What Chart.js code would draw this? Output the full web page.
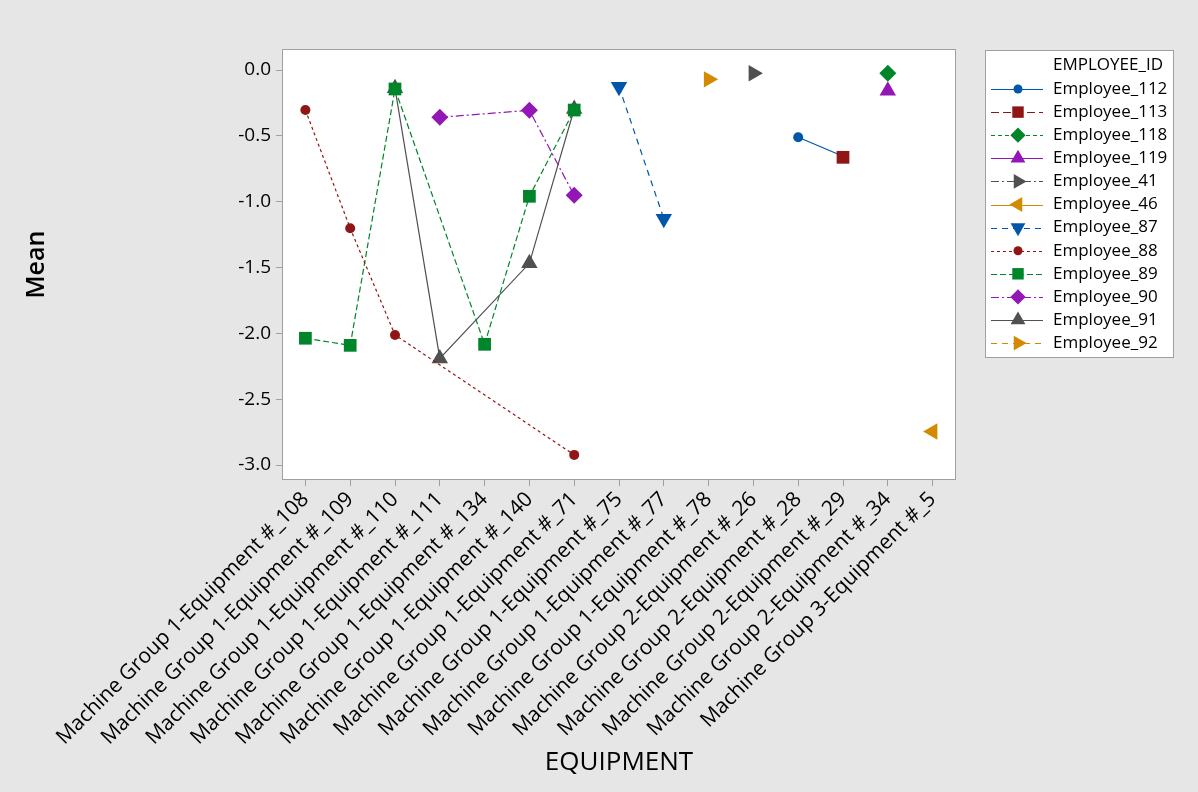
<!DOCTYPE html>
<html>
<head>
<meta charset="utf-8">
<script src="https://cdn.jsdelivr.net/npm/chart.js@4.4.1/dist/chart.umd.min.js"></script>
<style>
  html, body { margin: 0; padding: 0; background: #e6e6e6; }
  canvas { display: block; }
</style>
</head>
<body>
<canvas id="meanChart" width="1198" height="792"></canvas>
<script>
// categories along the x axis
var equipment = [
    'Machine Group 1-Equipment #_108', 'Machine Group 1-Equipment #_109', 'Machine Group 1-Equipment #_110',
    'Machine Group 1-Equipment #_111', 'Machine Group 1-Equipment #_134', 'Machine Group 1-Equipment #_140',
    'Machine Group 1-Equipment #_71', 'Machine Group 1-Equipment #_75', 'Machine Group 1-Equipment #_77',
    'Machine Group 1-Equipment #_78', 'Machine Group 2-Equipment #_26', 'Machine Group 2-Equipment #_28',
    'Machine Group 2-Equipment #_29', 'Machine Group 2-Equipment #_34', 'Machine Group 3-Equipment #_5'
];

// mean per employee, one value per equipment (null = no data)
var emp112 = [null, null, null, null, null, null, null, null, null, null, null, -0.511, -0.655, null, null];
var emp113 = [null, null, null, null, null, null, null, null, null, null, null, null, -0.663, null, null];
var emp118 = [null, null, null, null, null, null, null, null, null, null, null, null, null, -0.025, null];
var emp119 = [null, null, null, null, null, null, null, null, null, null, null, null, null, -0.157, null];
var emp41 = [null, null, null, null, null, null, null, null, null, null, -0.025, null, null, null, null];
var emp46 = [null, null, null, null, null, null, null, null, null, null, null, null, null, null, -2.746];
var emp87 = [null, null, null, null, null, null, null, -0.127, -1.129, null, null, null, null, null, null];
var emp88 = [-0.304, -1.202, -2.012, null, null, null, -2.923, null, null, null, null, null, null, null, null];
var emp89 = [-2.037, -2.091, -0.144, null, -2.083, -0.959, -0.304, null, null, null, null, null, null, null, null];
var emp90 = [null, null, null, -0.359, null, -0.306, -0.952, null, null, null, null, null, null, null, null];
var emp91 = [null, null, -0.139, -2.19, null, -1.468, -0.296, null, null, null, null, null, null, null, null];
var emp92 = [null, null, null, null, null, null, null, null, null, -0.071, null, null, null, null, null];

var yTicks = [0, -0.5, -1, -1.5, -2, -2.5, -3];

var BLUE = '#0056a8', RED = '#901515', GREEN = '#00852b', PURPLE = '#9217b5', GRAY = '#505050', ORANGE = '#d48a00';
var FONT = "'Open Sans', 'Noto Sans', sans-serif";

function series(label, data, color, style, radius, rotation, dash, order) {
    return {
        label: label,
        data: data,
        borderColor: color,
        backgroundColor: color,
        borderWidth: 1.2,
        borderDash: dash,
        pointStyle: style,
        pointRadius: radius,
        pointHoverRadius: radius,
        pointRotation: rotation,
        pointBorderWidth: 0,
        pointBackgroundColor: color,
        spanGaps: true,
        tension: 0,
        order: order
    };
}

var datasets = [
    series('Employee_112', emp112, BLUE, 'circle', 5, 0, [], 0),
    series('Employee_113', emp113, RED, 'rect', 9, 0, [8, 4], -1),
    series('Employee_118', emp118, GREEN, 'rectRot', 8.5, 0, [4, 3], 2),
    series('Employee_119', emp119, PURPLE, 'triangle', 9.5, 0, [], 3),
    series('Employee_41', emp41, GRAY, 'triangle', 9.5, 90, [8, 3, 2, 3], 4),
    series('Employee_46', emp46, ORANGE, 'triangle', 9.5, 270, [], 5),
    series('Employee_87', emp87, BLUE, 'triangle', 9.5, 180, [6, 5], 6),
    series('Employee_88', emp88, RED, 'circle', 5, 0, [3, 3], 7),
    series('Employee_89', emp89, GREEN, 'rect', 9, 0, [6, 3], 8),
    series('Employee_90', emp90, PURPLE, 'rectRot', 8.5, 0, [8, 3, 2, 3], 9),
    series('Employee_91', emp91, GRAY, 'triangle', 9.5, 0, [], 10),
    series('Employee_92', emp92, ORANGE, 'triangle', 9.5, 90, [6, 5], 11)
];

// white plot area with a grey frame
var plotFrame = {
    id: 'plotFrame',
    beforeDraw: function (chart) {
        var a = chart.chartArea, ctx = chart.ctx;
        ctx.save();
        ctx.fillStyle = '#ffffff';
        ctx.fillRect(a.left, a.top, a.right - a.left, a.bottom - a.top);
        ctx.restore();
    },
    afterDraw: function (chart) {
        var a = chart.chartArea, ctx = chart.ctx;
        ctx.save();
        ctx.strokeStyle = '#a0a0a0';
        ctx.lineWidth = 1;
        ctx.strokeRect(Math.round(a.left) - 0.5, Math.round(a.top) - 0.5, Math.round(a.right - a.left) + 1, Math.round(a.bottom - a.top) + 1);
        ctx.restore();
    }
};

// Minitab style legend: line sample with marker, titled box on the right
var sideLegend = {
    id: 'sideLegend',
    afterDraw: function (chart) {
        var ctx = chart.ctx;
        var x0 = 985, y0 = 50, w = 188, h = 307;
        ctx.save();
        ctx.fillStyle = '#ffffff';
        ctx.fillRect(x0, y0, w, h);
        ctx.strokeStyle = '#a0a0a0';
        ctx.lineWidth = 1;
        ctx.strokeRect(x0 + 0.5, y0 + 0.5, w, h);

        ctx.fillStyle = '#000000';
        ctx.font = '17px ' + FONT;
        ctx.textBaseline = 'middle';
        ctx.textAlign = 'left';
        ctx.fillText('EMPLOYEE_ID', 1053, 65);

        chart.data.datasets.forEach(function (ds, i) {
            var y = 89 + i * 23.1;
            ctx.save();
            ctx.strokeStyle = ds.borderColor;
            ctx.lineWidth = 1.2;
            ctx.setLineDash(ds.borderDash || []);
            ctx.beginPath();
            ctx.moveTo(991, Math.round(y) + 0.5);
            ctx.lineTo(1043, Math.round(y) + 0.5);
            ctx.stroke();
            ctx.setLineDash([]);
            ctx.fillStyle = ds.backgroundColor;
            ctx.strokeStyle = ds.borderColor;
            Chart.helpers.drawPoint(ctx, {
                pointStyle: ds.pointStyle,
                rotation: ds.pointRotation,
                radius: ds.pointRadius * 0.9,
                borderWidth: 0
            }, 1018, y);
            ctx.restore();
            ctx.fillStyle = '#000000';
            ctx.fillText(ds.label, 1053, y);
        });
        ctx.restore();
    }
};

var ctx = document.getElementById('meanChart').getContext('2d');
new Chart(ctx, {
    type: 'line',
    data: {
        labels: equipment,
        datasets: datasets
    },
    options: {
        responsive: false,
        animation: false,
        devicePixelRatio: 1,
        layout: {
            padding: { left: 0, right: 243, top: 50, bottom: 0 }
        },
        plugins: {
            legend: { display: false },
            tooltip: { enabled: false }
        },
        scales: {
            x: {
                type: 'category',
                offset: true,
                border: { display: false },
                grid: { drawOnChartArea: false, drawTicks: true, tickLength: 7, color: '#a0a0a0' },
                ticks: {
                    color: '#000000',
                    font: { family: FONT, size: 21 },
                    maxRotation: 45,
                    minRotation: 45,
                    autoSkip: false,
                    padding: 1
                },
                title: {
                    display: true,
                    text: 'EQUIPMENT',
                    color: '#000000',
                    font: { family: FONT, size: 26 },
                    padding: { top: 0, bottom: 14 }
                },
                afterFit: function (scale) { scale.height = 313; }
            },
            y: {
                min: -3.106,
                max: 0.152,
                border: { display: false },
                grid: { drawOnChartArea: false, drawTicks: true, tickLength: 7, color: '#a0a0a0' },
                afterBuildTicks: function (scale) {
                    scale.ticks = yTicks.map(function (v) { return { value: v }; });
                },
                ticks: {
                    color: '#000000',
                    font: { family: FONT, size: 19 },
                    padding: 5,
                    callback: function (v) { return (Math.abs(v) < 1e-9 ? 0 : v).toFixed(1); }
                },
                title: {
                    display: true,
                    text: 'Mean',
                    color: '#000000',
                    font: { family: FONT, size: 25, weight: '600' },
                    padding: { top: 22, bottom: 0 }
                },
                afterFit: function (scale) { scale.width = 283; }
            }
        }
    },
    plugins: [plotFrame, sideLegend]
});
</script>
</body>
</html>
